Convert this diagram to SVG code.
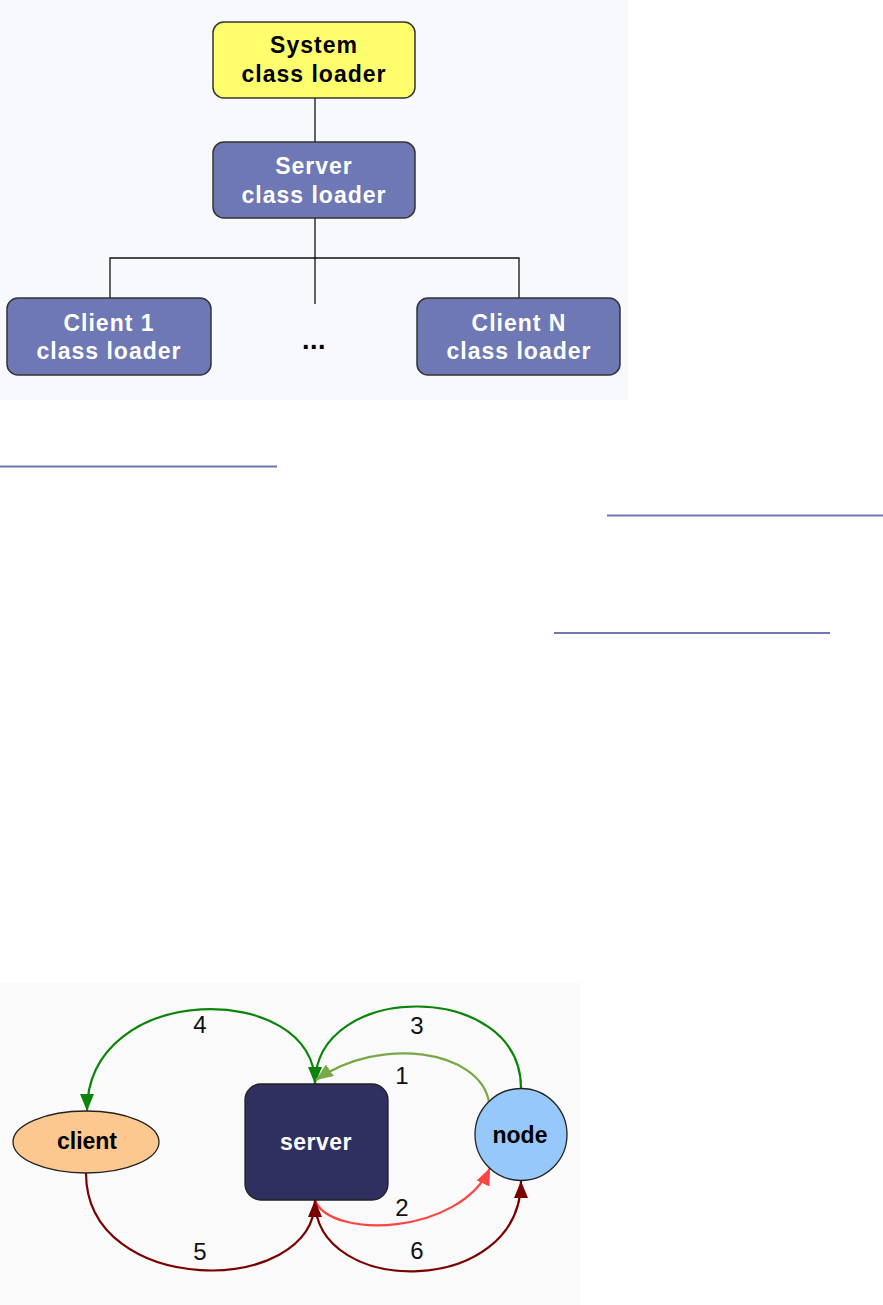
<svg xmlns="http://www.w3.org/2000/svg" width="883" height="1305" viewBox="0 0 883 1305">
<style>
.box{stroke:#333;stroke-width:1.5}
.tb{font-family:"Liberation Sans",Arial,sans-serif;font-weight:bold;font-size:23px;letter-spacing:1px;text-anchor:middle}
.w{fill:#fff}
.k{fill:#000}
.tree{stroke:#111;stroke-width:1.3;fill:none}
.ul{stroke:#6f76b3;stroke-width:2}
.e{fill:none;stroke-width:2.2}
.lbl{font-family:"Liberation Sans",Arial,sans-serif;font-size:24px;fill:#111;text-anchor:middle}
.nl{font-family:"Liberation Sans",Arial,sans-serif;font-weight:bold;font-size:23px;text-anchor:middle}
</style>
<defs>
<marker id="aG" markerUnits="userSpaceOnUse" markerWidth="18" markerHeight="14" refX="17" refY="7" orient="auto"><path d="M0,0 L17,7 L0,14 z" fill="#0a850a"/></marker>
<marker id="aL" markerUnits="userSpaceOnUse" markerWidth="18" markerHeight="14" refX="17" refY="7" orient="auto"><path d="M0,0 L17,7 L0,14 z" fill="#78a846"/></marker>
<marker id="aR" markerUnits="userSpaceOnUse" markerWidth="18" markerHeight="14" refX="17" refY="7" orient="auto"><path d="M0,0 L17,7 L0,14 z" fill="#ff4444"/></marker>
<marker id="aD" markerUnits="userSpaceOnUse" markerWidth="18" markerHeight="14" refX="17" refY="7" orient="auto"><path d="M0,0 L17,7 L0,14 z" fill="#7a0000"/></marker>
</defs>
<rect x="0" y="0" width="628" height="400" fill="#f8f9fc"/>
<rect x="0" y="983" width="580" height="322" fill="#fafafa"/>
<g id="tree-connectors">
<line class="tree" x1="315" y1="98" x2="315" y2="142"/>
<line class="tree" x1="315" y1="218" x2="315" y2="304"/>
<polyline class="tree" points="110,298 110,258 519,258 519,298"/>
</g>
<g id="system">
<rect class="box" x="213" y="22" width="202" height="76" rx="11" fill="#ffff6e"/>
<text class="tb k" x="314" y="53">System</text>
<text class="tb k" x="314" y="82">class loader</text>
</g>
<g id="server-cl">
<rect class="box" x="213" y="142" width="202" height="76" rx="11" fill="#6e78b4"/>
<text class="tb w" x="314" y="174">Server</text>
<text class="tb w" x="314" y="203">class loader</text>
</g>
<g id="client1">
<rect class="box" x="7" y="298" width="204" height="77" rx="11" fill="#6e78b4"/>
<text class="tb w" x="109" y="331">Client 1</text>
<text class="tb w" x="109" y="359">class loader</text>
</g>
<g id="ellipsis">
<text class="tb k" x="314" y="349" style="letter-spacing:0.5px;font-size:27px">...</text>
</g>
<g id="clientN">
<rect class="box" x="417" y="298" width="203" height="77" rx="11" fill="#6e78b4"/>
<text class="tb w" x="519" y="331">Client N</text>
<text class="tb w" x="519" y="359">class loader</text>
</g>
<g id="underlines">
<line class="ul" x1="0" y1="466.5" x2="277" y2="466.5"/>
<line class="ul" x1="607" y1="515.5" x2="883" y2="515.5"/>
<line class="ul" x1="554" y1="633" x2="830" y2="633"/>
</g>
<g id="connectors">
<path class="e" stroke="#0a850a" d="M315,1084 C315,980 87,980 87,1111" marker-end="url(#aG)"/>
<path class="e" stroke="#0a850a" d="M521,1088 C521,980 315,980 315,1084" marker-end="url(#aG)"/>
<path class="e" stroke="#78a846" d="M489,1102 C480,1050 380,1035 316,1080" marker-end="url(#aL)"/>
<path class="e" stroke="#ff4444" d="M315,1200 C330,1240 460,1235 490,1168" marker-end="url(#aR)"/>
<path class="e" stroke="#7a0000" d="M86,1173 C86,1298 315,1298 315,1200" marker-end="url(#aD)"/>
<path class="e" stroke="#7a0000" d="M315,1200 C315,1298 521,1298 521,1181" marker-end="url(#aD)"/>
<text class="lbl" x="402" y="1084">1</text>
<text class="lbl" x="402" y="1216">2</text>
<text class="lbl" x="417" y="1034">3</text>
<text class="lbl" x="200" y="1033">4</text>
<text class="lbl" x="200" y="1260">5</text>
<text class="lbl" x="417" y="1259">6</text>
</g>
<g id="client">
<ellipse cx="86" cy="1142" rx="73" ry="31" fill="#fdc890" stroke="#222" stroke-width="1.3"/>
<text class="nl k" x="87" y="1149">client</text>
</g>
<g id="server">
<rect x="245" y="1084" width="143" height="116" rx="16" fill="#2f2f60" stroke="#222" stroke-width="1.3"/>
<text class="nl w" x="316" y="1150" style="letter-spacing:0.5px">server</text>
</g>
<g id="node">
<circle cx="521" cy="1134.5" r="46" fill="#96c8fb" stroke="#222" stroke-width="1.3"/>
<text class="nl k" x="520" y="1143">node</text>
</g>
</svg>
